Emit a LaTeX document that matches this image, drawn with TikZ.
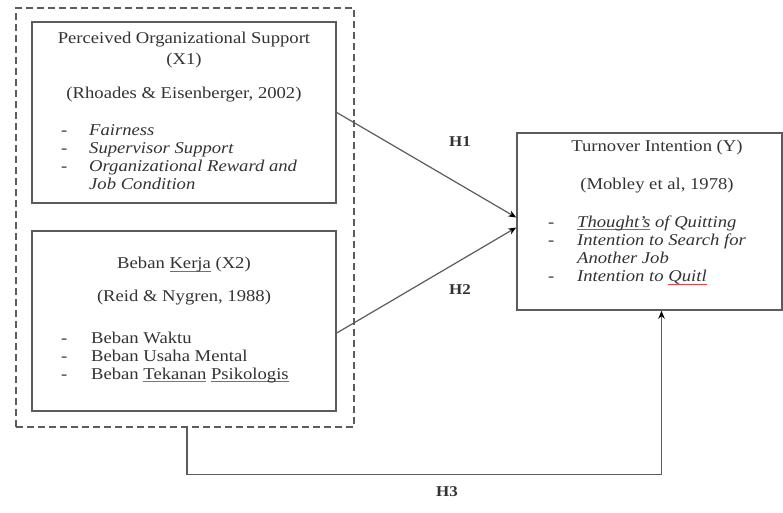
\documentclass[tikz,border=0pt]{standalone}
\usepackage{fontspec}
\setmainfont{Liberation Serif}[FakeStretch=1.13]
\usetikzlibrary{calc,arrows.meta}
\definecolor{txt}{HTML}{333333}
\definecolor{edge}{HTML}{5C5C5C}
\definecolor{spred}{HTML}{E0404A}
\definecolor{spblue}{HTML}{4A6FD0}
\definecolor{spgreen}{HTML}{3A9A7A}
\newcommand\spellmark[2]{\setbox0\hbox{#2}\leavevmode\rlap{\textcolor{#1}{\rule[-2.6pt]{\wd0}{0.8pt}}}\box0\relax}
\tikzset{
  box/.style={draw=edge, line width=1.5pt, inner sep=0pt},
  outerbox/.style={draw=edge, line width=1.1pt, dash pattern=on 7pt off 4pt, inner sep=0pt},
  ln/.style={text=txt, font=\fontsize{16.5}{18.3}\selectfont, inner sep=0pt},
  lst/.style={text=txt, font=\fontsize{16.5}{18.3}\selectfont, inner sep=0pt, anchor=base west},
  hyp/.style={text=txt, font=\fontsize{15}{18}\selectfont\bfseries, inner sep=0pt},
  conn/.style={draw=edge, line width=1.2pt, -{Stealth[length=8pt,width=6.5pt,black]}}
}
\begin{document}
\begin{tikzpicture}[x=1pt,y=-1pt]
\useasboundingbox (0,0) rectangle (783,512);
\fill[white] (0,0) rectangle (783,512);

% boxes
\node[outerbox, minimum width=338pt, minimum height=419pt] (outer) at (185,217.5) {};
\node[box, minimum width=304pt, minimum height=181pt] (x1) at (184,112.5) {};
\node[box, minimum width=304pt, minimum height=180pt] (x2) at (184,321) {};
\node[box, minimum width=265pt, minimum height=177pt] (ty) at (649.5,221.5) {};

% X1 texts
\node[ln] (x1t1) at (184,40) {Perceived Organizational Support};
\node[ln] (x1t2) at (184,61) {(X1)};
\node[ln] (x1t3) at (184,95) {(Rhoades \& Eisenberger, 2002)};
\node[lst] (x1l) at (61,135) {\begin{tabular}[t]{@{}p{28pt}@{}l@{}}
- & \textit{Fairness}\\
- & \textit{Supervisor Support}\\
- & \textit{Organizational Reward and}\\
  & \textit{Job Condition}
\end{tabular}};

% X2 texts
\node[ln] (x2t1) at (184,265) {Beban \spellmark{spred}{Kerja} (X2)};
\node[ln] (x2t2) at (184,298) {(Reid \& Nygren, 1988)};
\node[lst] (x2l) at (61,343) {\begin{tabular}[t]{@{}p{30pt}@{}l@{}}
- & Beban Waktu\\
- & Beban Usaha Mental\\
- & Beban \spellmark{spgreen}{Tekanan} \spellmark{spred}{Psikologis}
\end{tabular}};

% Y texts
\node[ln] (tyt1) at (657,148) {Turnover Intention (Y)};
\node[ln] (tyt2) at (657,186) {(Mobley et al, 1978)};
\node[lst] (tyl) at (548,227) {\begin{tabular}[t]{@{}p{29pt}@{}l@{}}
- & \textit{\spellmark{spblue}{Thought's} of Quitting}\\
- & \textit{Intention to Search for}\\
  & \textit{Another Job}\\
- & \textit{Intention to \spellmark{spred}{Quitl}}
\end{tabular}};

% hypothesis labels
\node[hyp] (h1) at (460,142) {H1};
\node[hyp] (h2) at (460,290) {H2};
\node[hyp] (h3) at (447,492) {H3};

% connectors
\draw[conn] (x1.east) -- ($(ty.west)+(0,-4)$);
\draw[conn] ($(x2.east)+(0,12)$) -- ($(ty.west)+(0,6)$);
\coordinate (h3s) at ($(outer.south)+(2,0)$);
\coordinate (h3e) at ($(ty.south)+(12,0)$);
\draw[conn] (h3s) -- ++(0,47) -| (h3e);
\end{tikzpicture}
\end{document}
